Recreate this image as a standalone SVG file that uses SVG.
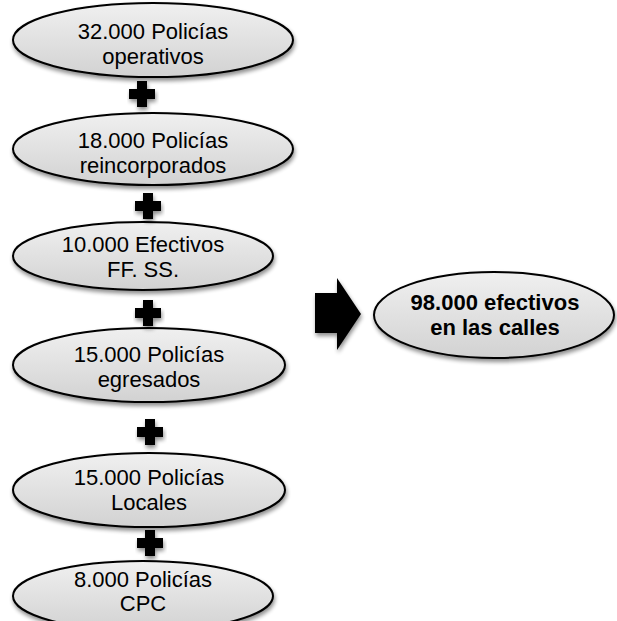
<svg xmlns="http://www.w3.org/2000/svg" width="617" height="621" viewBox="0 0 617 621">
<defs>
<linearGradient id="g" x1="0" y1="0" x2="0" y2="1">
<stop offset="0" stop-color="#f0f0f0"/>
<stop offset="1" stop-color="#d2d2d2"/>
</linearGradient>
<filter id="sh" x="-10%" y="-20%" width="125%" height="150%">
<feGaussianBlur in="SourceAlpha" stdDeviation="2"/>
<feOffset dx="1" dy="3" result="b"/>
<feComponentTransfer><feFuncA type="linear" slope="0.45"/></feComponentTransfer>
<feMerge><feMergeNode/><feMergeNode in="SourceGraphic"/></feMerge>
</filter>
</defs>
<style>
.n{fill:url(#g);stroke:#000;stroke-width:2;filter:url(#sh)}
.t{font-family:"Liberation Sans",Arial,sans-serif;font-size:22px;fill:#000;text-anchor:middle}
.b{font-family:"Liberation Sans",Arial,sans-serif;font-size:22px;font-weight:bold;fill:#000;text-anchor:middle}
.p{fill:#000;filter:url(#sh)}
</style>
<rect width="617" height="621" fill="#fff"/>
<g id="n1"><ellipse class="n" cx="153" cy="40" rx="140" ry="37"/>
<text class="t" x="153" y="39">32.000 Policías</text><text class="t" x="153" y="64">operativos</text></g>
<g id="n2"><ellipse class="n" cx="153" cy="149" rx="140" ry="36"/>
<text class="t" x="153" y="148">18.000 Policías</text><text class="t" x="153" y="173">reincorporados</text></g>
<g id="n3"><ellipse class="n" cx="143" cy="256" rx="130" ry="34"/>
<text class="t" x="143" y="252">10.000 Efectivos</text><text class="t" x="143" y="277">FF. SS.</text></g>
<g id="n4"><ellipse class="n" cx="149" cy="365" rx="136" ry="37"/>
<text class="t" x="149" y="362">15.000 Policías</text><text class="t" x="149" y="387">egresados</text></g>
<g id="n5"><ellipse class="n" cx="149" cy="490" rx="136" ry="37"/>
<text class="t" x="149" y="485">15.000 Policías</text><text class="t" x="149" y="510">Locales</text></g>
<g id="n6"><ellipse class="n" cx="143" cy="596" rx="130" ry="35"/>
<text class="t" x="143" y="587">8.000 Policías</text><text class="t" x="143" y="611">CPC</text></g>
<g id="connectors">
<g id="plus1"><path class="p" d="M137 81h10v8h8v10h-8v8h-10v-8h-8v-10h8z"/></g>
<g id="plus2"><path class="p" d="M143 193h10v8h8v10h-8v8h-10v-8h-8v-10h8z"/></g>
<g id="plus3"><path class="p" d="M143 300h10v8h8v10h-8v8h-10v-8h-8v-10h8z"/></g>
<g id="plus4"><path class="p" d="M145 419h10v8h8v10h-8v8h-10v-8h-8v-10h8z"/></g>
<g id="plus5"><path class="p" d="M145 530h10v8h8v10h-8v8h-10v-8h-8v-10h8z"/></g>
<g id="arrow"><path class="p" d="M315 293h22v-15l24 36l-24 36v-17h-22z"/></g>
</g>
<g id="result"><ellipse class="n" cx="494" cy="315" rx="120" ry="43"/>
<text class="b" x="495" y="310">98.000 efectivos</text><text class="b" x="495" y="335">en las calles</text></g>
</svg>
